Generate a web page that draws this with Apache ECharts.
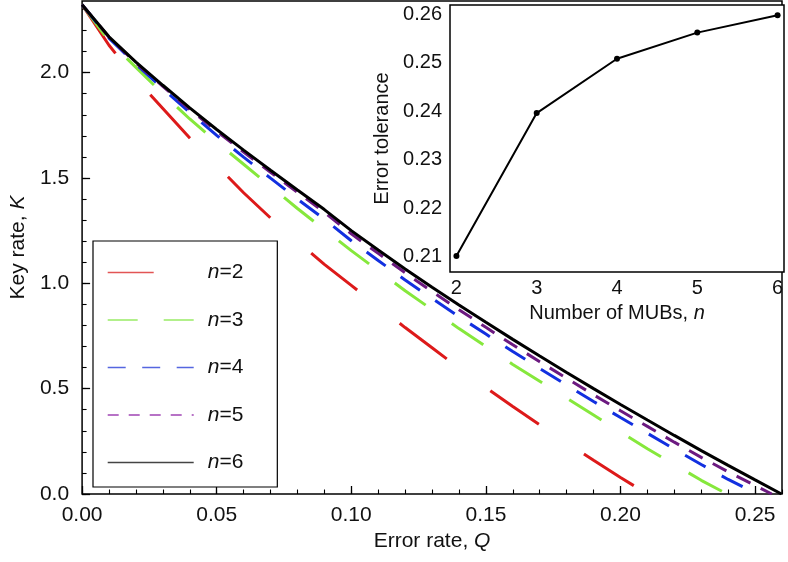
<!DOCTYPE html>
<html><head><meta charset="utf-8">
<script src="https://cdn.jsdelivr.net/npm/echarts@6/dist/echarts.min.js"></script>
<style>html,body{margin:0;padding:0;background:#fff}#c{width:788px;height:562px}</style>
</head><body><div id="c"></div>
<script>
// ---------- data ----------
const Q_GRID = [0,0.01,0.02,0.03,0.04,0.05,0.06,0.07,0.08,0.09,0.10,0.11,0.12,0.13,0.14,0.15,0.16,0.17,0.18,0.19,0.20,0.21,0.22,0.23,0.24,0.25];
const SERIES_NAMES = ['n=2','n=3','n=4','n=5','n=6'];
const K_N2 = [2.322,2.13,1.97,1.83,1.69,1.56,1.43,1.31,1.20,1.09,0.99,0.89,0.79,0.694,0.598,0.505,0.415,0.328,0.243,0.160,0.078];
const K_N3 = [2.322,2.15,2.025,1.90,1.78,1.67,1.565,1.46,1.355,1.255,1.155,1.06,0.965,0.875,0.785,0.70,0.615,0.535,0.455,0.375,0.295,0.215,0.14,0.065];
const K_N4 = [2.322,2.164,2.040,1.924,1.811,1.702,1.599,1.499,1.400,1.304,1.202,1.108,1.016,0.928,0.842,0.759,0.676,0.596,0.517,0.439,0.363,0.288,0.213,0.140,0.069];
const K_N5 = [2.322,2.168,2.046,1.935,1.826,1.722,1.623,1.527,1.432,1.337,1.235,1.142,1.050,0.961,0.875,0.791,0.708,0.628,0.549,0.471,0.395,0.321,0.246,0.174,0.105,0.040];
const K_N6 = [2.322,2.170,2.050,1.940,1.833,1.730,1.632,1.537,1.443,1.350,1.250,1.158,1.068,0.981,0.897,0.815,0.734,0.655,0.577,0.500,0.425,0.351,0.278,0.206,0.136,0.067];
const K_CURVES = [K_N2,K_N3,K_N4,K_N5,K_N6];

// inset: error tolerance vs number of MUBs
const TOL_N = [2,3,4,5,6];
const TOL_VALUES = [0.2101,0.2396,0.2508,0.2562,0.2598];

// tick labels
const MAIN_X_TICKS = [0,0.05,0.10,0.15,0.20,0.25];
const MAIN_X_LABELS = ['0.00','0.05','0.10','0.15','0.20','0.25'];
const MAIN_Y_TICKS = [0,0.5,1.0,1.5,2.0];
const MAIN_Y_LABELS = ['0.0','0.5','1.0','1.5','2.0'];
const INSET_X_TICKS = [2,3,4,5,6];
const INSET_X_LABELS = ['2','3','4','5','6'];
const INSET_Y_TICKS = [0.21,0.22,0.23,0.24,0.25,0.26];
const INSET_Y_LABELS = ['0.21','0.22','0.23','0.24','0.25','0.26'];

// ---------- styling ----------
const FONT = '"Liberation Sans", Arial, Helvetica, sans-serif';
const TXT = '#111';
const COLORS = ['#dd1a1a','#86e83c','#1230e0','#6c1a80','#000000'];
const LEGEND_COLORS = ['#e25555','#99ec66','#5566e0','#a044b4','#444444'];
const DASH = [[59,54],[38,32],[23.5,18.5],[15.5,11.5],'solid'];
const LEGEND_DASH = [[46,60],[30,26],[18,16.5],[11,10],'solid'];
const FS_MAIN = 21, FS_INSET = 20, FS_LEG = 21;

function rangeSteps(a, b, step, dec) {
  const out = []; const n = Math.round((b - a) / step);
  for (let i = 0; i <= n; i++) out.push(+(a + i * step).toFixed(dec));
  return out;
}
const MAIN_X_MINOR = rangeSteps(0, 0.26, 0.01, 3);
const MAIN_Y_MINOR = rangeSteps(0, 2.3, 0.1, 2);
const INSET_X_MINOR = rangeSteps(2, 6, 0.2, 2);
const INSET_Y_MINOR = rangeSteps(0.208, 0.260, 0.002, 4);

function lab(ticks, labels) {
  return v => { const i = ticks.findIndex(t => Math.abs(t - v) < 1e-9); return i >= 0 ? labels[i] : ''; };
}
function curve(K, end) {
  const pts = K.map((k, i) => [Q_GRID[i], k]);
  pts.push([end, 0]);
  return pts;
}
const ENDS = TOL_VALUES;

const ls = fs => ({fontFamily: FONT, fontSize: fs, color: TXT});
const ns = fs => ({fontFamily: FONT, fontSize: fs, color: TXT,
  rich: {i: {fontFamily: FONT, fontSize: fs, color: TXT, fontStyle: 'italic'}}});

function majorAxis(extra) {
  return Object.assign({
    type: 'value', axisLine: {show: false}, splitLine: {show: false},
  }, extra);
}
function minorAxis(extra, ticks, len) {
  return Object.assign({
    type: 'value', axisLine: {show: false}, splitLine: {show: false},
    axisLabel: {show: false},
    axisTick: {show: true, inside: true, length: len, customValues: ticks, lineStyle: {color: '#000', width: 1.1}},
  }, extra);
}

const mainSeries = K_CURVES.map((K, i) => ({
  name: SERIES_NAMES[i], type: 'line', xAxisIndex: 0, yAxisIndex: 0,
  data: curve(K, ENDS[i]), symbol: 'none', showSymbol: false, clip: true,
  lineStyle: {color: COLORS[i], width: 3, type: DASH[i]}, z: 2 + i
}));

const option = {
  animation: false,
  backgroundColor: '#fff',
  grid: [
    {left: 81, top: 1, width: 701, height: 493, show: true, borderColor: '#000', borderWidth: 1.5, backgroundColor: 'transparent'},
    {left: 450, top: 5, width: 334, height: 267, show: true, borderColor: '#000', borderWidth: 1.5, backgroundColor: '#fff', z: 10}
  ],
  xAxis: [
    majorAxis({gridIndex: 0, min: 0, max: 0.26, position: 'bottom',
      axisTick: {show: true, inside: true, length: 8, customValues: MAIN_X_TICKS, lineStyle: {color: '#000', width: 1.3}},
      axisLabel: {customValues: MAIN_X_TICKS, formatter: lab(MAIN_X_TICKS, MAIN_X_LABELS), margin: 11, ...ls(FS_MAIN)},
      name: 'Error rate, {i|Q}', nameLocation: 'middle', nameGap: 36, nameTextStyle: ns(FS_MAIN)}),
    minorAxis({gridIndex: 0, min: 0, max: 0.26, position: 'bottom'}, MAIN_X_MINOR, 4.5),
    majorAxis({gridIndex: 1, min: 1.92, max: 6.08, position: 'bottom',
      axisTick: {show: true, inside: true, length: 6, customValues: INSET_X_TICKS, lineStyle: {color: '#000', width: 1.3}},
      axisLabel: {customValues: INSET_X_TICKS, formatter: lab(INSET_X_TICKS, INSET_X_LABELS), margin: 6, ...ls(FS_INSET)},
      name: 'Number of MUBs, {i|n}', nameLocation: 'middle', nameGap: 31, nameTextStyle: ns(FS_INSET)}),
    minorAxis({gridIndex: 1, min: 1.92, max: 6.08, position: 'bottom'}, INSET_X_MINOR, 3.5)
  ],
  yAxis: [
    majorAxis({gridIndex: 0, min: 0, max: 2.34, position: 'left',
      axisTick: {show: true, inside: true, length: 8, customValues: MAIN_Y_TICKS, lineStyle: {color: '#000', width: 1.3}},
      axisLabel: {customValues: MAIN_Y_TICKS, formatter: lab(MAIN_Y_TICKS, MAIN_Y_LABELS), margin: 13, ...ls(FS_MAIN)},
      name: 'Key rate, {i|K}', nameLocation: 'middle', nameGap: 46, nameTextStyle: ns(FS_MAIN)}),
    minorAxis({gridIndex: 0, min: 0, max: 2.34, position: 'left'}, MAIN_Y_MINOR, 4.5),
    majorAxis({gridIndex: 1, min: 0.2068, max: 0.2619, position: 'left',
      axisTick: {show: true, inside: true, length: 6, customValues: INSET_Y_TICKS, lineStyle: {color: '#000', width: 1.3}},
      axisLabel: {customValues: INSET_Y_TICKS, formatter: lab(INSET_Y_TICKS, INSET_Y_LABELS), margin: 8, ...ls(FS_INSET)},
      name: 'Error tolerance', nameLocation: 'middle', nameGap: 58, nameTextStyle: ns(FS_INSET)}),
    minorAxis({gridIndex: 1, min: 0.2068, max: 0.2619, position: 'left'}, INSET_Y_MINOR, 3.5)
  ],
  legend: {
    orient: 'vertical', left: 93, top: 241,
    padding: [21, 34, 14, 14], itemWidth: 86, itemHeight: 20, itemGap: 26.5,
    backgroundColor: '#fff', borderColor: '#000', borderWidth: 1.2,
    selectedMode: false,
    itemStyle: {opacity: 0},
    textStyle: {fontFamily: FONT, fontSize: FS_LEG, color: TXT, lineHeight: 20,
      rich: {s: {width: 9, lineHeight: 20}, i: {fontFamily: FONT, fontSize: FS_LEG, color: TXT, fontStyle: 'italic', lineHeight: 20}}},
    formatter: name => '{s| }{i|n}' + name.slice(1),
    data: SERIES_NAMES.map((nm, i) => ({name: nm, itemStyle: {opacity: 0},
      lineStyle: {color: LEGEND_COLORS[i], width: 1.4, type: LEGEND_DASH[i]}}))
  },
  series: mainSeries.concat([{
    name: 'tolerance', type: 'line', xAxisIndex: 2, yAxisIndex: 2,
    data: TOL_N.map((n, i) => [n, TOL_VALUES[i]]),
    symbol: 'circle', symbolSize: 6, showSymbol: true,
    itemStyle: {color: '#000'}, lineStyle: {color: '#000', width: 2}, z: 20
  }])
};
const chart = echarts.init(document.getElementById('c'), null, {renderer: 'canvas'});
chart.setOption(option);
</script></body></html>
